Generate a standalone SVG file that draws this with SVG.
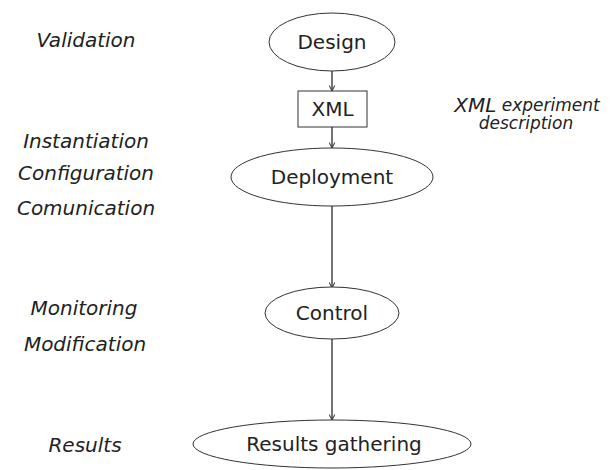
<svg xmlns="http://www.w3.org/2000/svg" width="611" height="470" viewBox="0 0 611 470">
<defs>
<style>
.node{fill:#fff;stroke:#333;stroke-width:1}
.t{font-family:"DejaVu Sans","Liberation Sans",sans-serif;font-size:20px;fill:#222;text-anchor:middle;dominant-baseline:central}
.l{font-family:"DejaVu Sans","Liberation Sans",sans-serif;font-size:20px;font-style:italic;fill:#222;text-anchor:middle;dominant-baseline:central}
.e{stroke:#444;stroke-width:1.5;fill:none;marker-end:url(#ah)}
</style>
<marker id="ah" viewBox="0 0 10 10" refX="9" refY="5" markerWidth="7" markerHeight="7" orient="auto" markerUnits="userSpaceOnUse">
<path d="M1,1 L9,5 L1,9" fill="none" stroke="#444" stroke-width="1.5"/>
</marker>
</defs>
<rect width="611" height="470" fill="#fff"/>
<g id="edges">
<line class="e" x1="332" y1="71" x2="332" y2="91"/>
<line class="e" x1="332" y1="127" x2="332" y2="148"/>
<line class="e" x1="332" y1="206" x2="332" y2="288"/>
<line class="e" x1="332" y1="339" x2="332" y2="420"/>
</g>
<g id="design"><ellipse class="node" cx="332" cy="42" rx="63" ry="29"/><text class="t" x="332" y="42">Design</text></g>
<g id="xml"><rect class="node" x="298" y="91" width="69" height="36"/><text class="t" x="332.5" y="109">XML</text></g>
<g id="deployment"><ellipse class="node" cx="332" cy="177" rx="101" ry="29"/><text class="t" x="332" y="177">Deployment</text></g>
<g id="control"><ellipse class="node" cx="332" cy="313" rx="67" ry="26"/><text class="t" x="332" y="313">Control</text></g>
<g id="results"><ellipse class="node" cx="332" cy="444" rx="139" ry="24"/><text class="t" x="334" y="444">Results gathering</text></g>
<g id="labels">
<text class="l" x="86" y="40">Validation</text>
<text class="l" x="86" y="141">Instantiation</text>
<text class="l" x="86" y="173">Configuration</text>
<text class="l" x="86" y="208">Comunication</text>
<text class="l" x="84" y="308">Monitoring</text>
<text class="l" x="85" y="344">Modification</text>
<text class="l" x="85" y="445">Results</text>
<text class="l" x="527" y="105"><tspan style="font-size:20px">XML</tspan><tspan style="font-size:17px"> experiment</tspan></text>
<text class="l" x="526" y="123" style="font-size:17px">description</text>
</g>
</svg>
